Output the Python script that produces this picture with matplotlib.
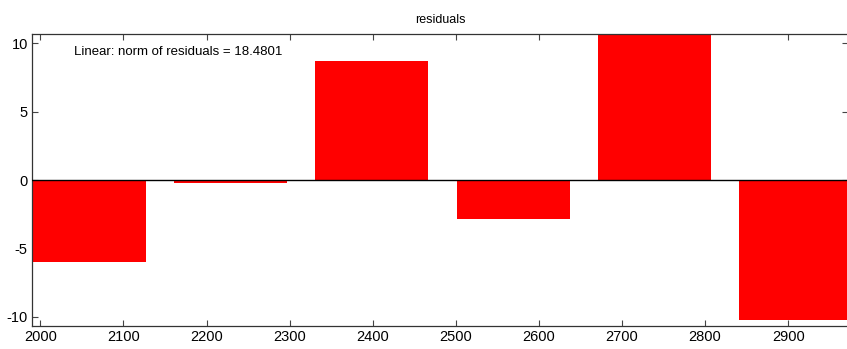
import matplotlib
matplotlib.use("Agg")
import matplotlib.pyplot as plt
import numpy as np

# bar positions and residual values
x_centers = [2059, 2229, 2399, 2569, 2739, 2909]
residuals = [-5.97, -0.24, 8.70, -2.87, 10.83, -10.23]
x_ticks = [2000, 2100, 2200, 2300, 2400, 2500, 2600, 2700, 2800, 2900]
y_ticks = [-10, -5, 0, 5, 10]
norm_text = "Linear: norm of residuals = 18.4801"

plt.rcParams['font.family'] = ['Liberation Sans Narrow', 'Liberation Sans', 'DejaVu Sans']
plt.rcParams['axes.unicode_minus'] = False

fig = plt.figure(figsize=(8.47, 3.49), dpi=100)
ax = fig.add_axes([32 / 847, 1 - 326 / 349, 816 / 847, (326 - 34.3) / 349])

ax.bar(x_centers, residuals, width=136, color='#ff0000', edgecolor='none', zorder=2)
ax.axhline(0, color='black', linewidth=1.0, zorder=3)

ax.set_xlim(1990, 2972)
ax.set_ylim(-10.67, 10.65)
ax.set_xticks(x_ticks)
ax.set_yticks(y_ticks)
ax.tick_params(direction='in', length=4, top=True, right=True, labelsize=10.5, pad=3,
               color='#444444')
for sp in ax.spines.values():
    sp.set_color('#333333')
    sp.set_linewidth(0.9)

ax.set_title('residuals', fontsize=9, pad=8)
ax.text(2040, 9.36, norm_text, fontsize=9.5, va='center', ha='left')

fig.savefig('out.png', dpi=100)
